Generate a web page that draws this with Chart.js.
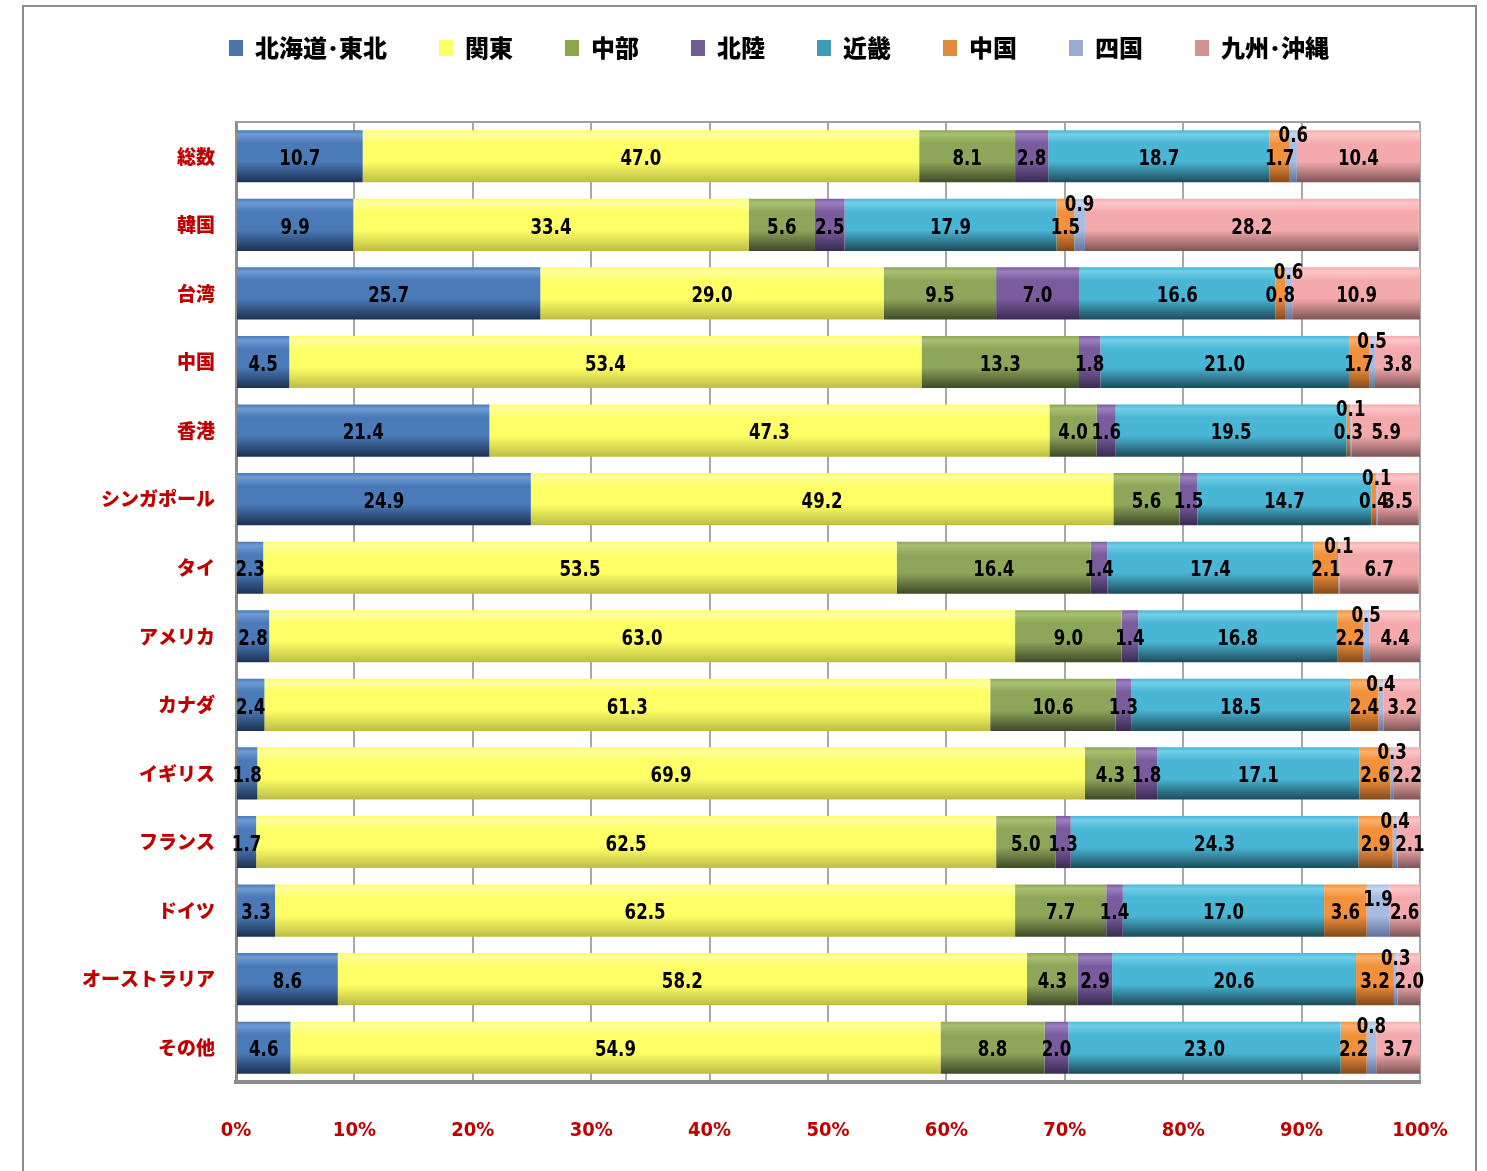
<!DOCTYPE html>
<html>
<head>
<meta charset="utf-8">
<script src="https://cdn.jsdelivr.net/npm/chart.js@4/dist/chart.umd.min.js"></script>
<style>
  html, body { margin: 0; padding: 0; background: #fff; }
  #frame { position: absolute; left: 22px; top: 5px; width: 1451px; height: 1200px; border: 2px solid #8c8c8c; }
  #wrap { position: absolute; left: 0; top: 0; width: 1487px; height: 1171px; }
</style>
</head>
<body>
<div id="frame"></div>
<div id="wrap"><canvas id="chart" width="1487" height="1171"></canvas></div>
<script>
const categories = ['総数', '韓国', '台湾', '中国', '香港', 'シンガポール', 'タイ', 'アメリカ', 'カナダ', 'イギリス', 'フランス', 'ドイツ', 'オーストラリア', 'その他'];
const regions = ['北海道･東北', '関東', '中部', '北陸', '近畿', '中国', '四国', '九州･沖縄'];

const hokkaidoTohoku = [10.7, 9.9, 25.7, 4.5, 21.4, 24.9, 2.3, 2.8, 2.4, 1.8, 1.7, 3.3, 8.6, 4.6];
const kanto          = [47.0, 33.4, 29.0, 53.4, 47.3, 49.2, 53.5, 63.0, 61.3, 69.9, 62.5, 62.5, 58.2, 54.9];
const chubu          = [8.1, 5.6, 9.5, 13.3, 4.0, 5.6, 16.4, 9.0, 10.6, 4.3, 5.0, 7.7, 4.3, 8.8];
const hokuriku       = [2.8, 2.5, 7.0, 1.8, 1.6, 1.5, 1.4, 1.4, 1.3, 1.8, 1.3, 1.4, 2.9, 2.0];
const kinki          = [18.7, 17.9, 16.6, 21.0, 19.5, 14.7, 17.4, 16.8, 18.5, 17.1, 24.3, 17.0, 20.6, 23.0];
const chugoku        = [1.7, 1.5, 0.8, 1.7, 0.3, 0.4, 2.1, 2.2, 2.4, 2.6, 2.9, 3.6, 3.2, 2.2];
const shikoku        = [0.6, 0.9, 0.6, 0.5, 0.1, 0.1, 0.1, 0.5, 0.4, 0.3, 0.4, 1.9, 0.3, 0.8];
const kyushuOkinawa  = [10.4, 28.2, 10.9, 3.8, 5.9, 3.5, 6.7, 4.4, 3.2, 2.2, 2.1, 2.6, 2.0, 3.7];

const seriesValues = [hokkaidoTohoku, kanto, chubu, hokuriku, kinki, chugoku, shikoku, kyushuOkinawa];

// legend swatch, then bar shading: top highlight / body / dark bottom
const palette = [
  ['#4a74ab', '#6e9bd3', '#4a7ab8', '#1c3152'],
  ['#ffff66', '#ffffa0', '#ffff66', '#bdbd45'],
  ['#8ea64e', '#a8c070', '#8ea65a', '#3e4a28'],
  ['#735b95', '#9a80be', '#7a5c9e', '#3a2a52'],
  ['#3f9cb2', '#72cfe8', '#4ab6d6', '#1c4b59'],
  ['#e28a3c', '#fbb26c', '#f2903c', '#84491a'],
  ['#97abd3', '#c6d6f2', '#a6bce2', '#60739a'],
  ['#d39393', '#ffc6c8', '#f4aaac', '#7e5456']
];

const BAR_PCT = 0.76;
const NUM_FONT = '"Liberation Sans Narrow", "DejaVu Sans Condensed", "DejaVu Sans", sans-serif';

function barFill(i) {
  return c => {
    const p = palette[i];
    if (c.type !== 'data') return p[0];
    const chart = c.chart;
    const ys = chart.scales.y;
    if (!ys || !chart.chartArea) return p[2];
    const yc = ys.getPixelForValue(c.dataIndex);
    const half = ys.height / categories.length * BAR_PCT / 2;
    const g = chart.ctx.createLinearGradient(0, yc - half, 0, yc + half);
    g.addColorStop(0, p[2]);
    g.addColorStop(0.08, p[1]);
    g.addColorStop(0.25, p[2]);
    g.addColorStop(0.6, p[2]);
    g.addColorStop(1, p[3]);
    return g;
  };
}

const legendSpacer = {
  id: 'legendSpacer',
  beforeInit(chart) {
    const fit = chart.legend.fit;
    chart.legend.fit = function () {
      fit.call(this);
      this.height = 114;
    };
  }
};

const plotFrame = {
  id: 'plotFrame',
  beforeDatasetsDraw(chart) {
    const { ctx, chartArea: a } = chart;
    ctx.save();
    ctx.strokeStyle = '#a0a0a0';
    ctx.lineWidth = 2;
    ctx.beginPath();
    ctx.moveTo(a.left, a.top);
    ctx.lineTo(a.right, a.top);
    ctx.stroke();
    ctx.restore();
  }
};

const segmentLabels = {
  id: 'segmentLabels',
  afterDatasetsDraw(chart) {
    const ctx = chart.ctx;
    const sx = 0.84;
    ctx.save();
    ctx.scale(sx, 1);
    ctx.font = 'bold 22px ' + NUM_FONT;
    ctx.fillStyle = '#000';
    ctx.textAlign = 'center';
    ctx.textBaseline = 'middle';
    chart.data.datasets.forEach((ds, di) => {
      chart.getDatasetMeta(di).data.forEach((bar, i) => {
        const v = ds.data[i];
        let y = bar.y + 3;
        if (di === 6) y -= v >= 1.5 ? 13 : 23;  // 四国 labels sit above the bar
        ctx.fillText(v.toFixed(1), (bar.x + bar.base) / 2 / sx, y);
      });
    });
    ctx.restore();
  }
};

new Chart(document.getElementById('chart'), {
  type: 'bar',
  data: {
    labels: categories,
    datasets: regions.map((name, i) => ({
      label: name,
      data: seriesValues[i],
      backgroundColor: barFill(i),
      borderWidth: 0,
      barPercentage: BAR_PCT,
      categoryPercentage: 1
    }))
  },
  options: {
    responsive: false,
    animation: false,
    indexAxis: 'y',
    layout: { padding: { left: 162, right: 67, top: 8, bottom: 0 } },
    scales: {
      x: {
        stacked: true,
        min: 0,
        max: 100,
        ticks: {
          stepSize: 10,
          callback: v => v + '%',
          color: '#c00000',
          font: { family: NUM_FONT, size: 20, weight: 'bold' },
          padding: 37
        },
        grid: { color: '#a8a8a8', lineWidth: 2, drawTicks: false },
        border: { color: '#8c8c8c', width: 4 },
        afterFit(s) { s.height = 89; }
      },
      y: {
        stacked: true,
        ticks: {
          color: '#c00000',
          font: { family: '"Noto Sans CJK JP", sans-serif', size: 19, weight: '900' },
          padding: 21
        },
        grid: { display: false, drawTicks: false },
        border: { color: '#8c8c8c', width: 3 },
        afterFit(s) {
          s.width = 74;
          s._computeLabelArea = () => null;  // let long labels run past the axis box
        }
      }
    },
    plugins: {
      legend: {
        position: 'top',
        labels: {
          boxWidth: 14,
          boxHeight: 16,
          padding: 28,
          color: '#000',
          font: { family: '"Noto Sans CJK JP", sans-serif', size: 24, weight: '900' },
          generateLabels(chart) {
            return chart.data.datasets.map((ds, i) => ({
              text: ds.label + '\u3000',
              fillStyle: palette[i][0],
              strokeStyle: palette[i][0],
              lineWidth: 0,
              fontColor: '#000',
              hidden: false,
              datasetIndex: i
            }));
          }
        }
      },
      tooltip: { enabled: false }
    }
  },
  plugins: [legendSpacer, plotFrame, segmentLabels]
});
</script>
</body>
</html>
